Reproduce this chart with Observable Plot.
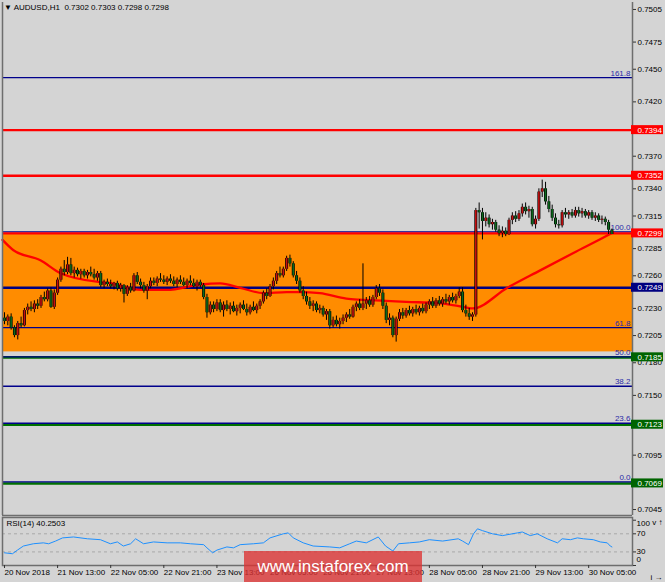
<!DOCTYPE html>
<html><head><meta charset="utf-8">
<script src="https://cdn.jsdelivr.net/npm/d3@7"></script>
<script src="https://cdn.jsdelivr.net/npm/@observablehq/plot@0.6"></script>
<style>
html,body{margin:0;padding:0;background:#d4d4d4;}
#wrap{position:relative;width:665px;height:582px;overflow:hidden;background:#d4d4d4;font-family:"Liberation Sans",Arial,sans-serif;}
#main{position:absolute;left:0;top:0;}
#rsi{position:absolute;left:0;top:516px;}
#hdr{position:absolute;left:4px;top:3px;font-size:8px;line-height:10px;color:#000;white-space:pre;}
#wm{position:absolute;left:244px;top:551px;width:178px;height:31px;background:rgba(220,50,50,0.78);color:#fff;font-size:17px;line-height:31px;text-align:center;}
</style></head>
<body><div id="wrap"><div id="main"></div><div id="rsi"></div><div id="hdr"></div><div id="wm"></div></div>
<script>
// ---------- data ----------
const symbol = "AUDUSD,H1";
const headerOHLC = ["0.7302","0.7303","0.7298","0.7298"];
const watermark = "www.instaforex.com";
const rsiTitle = "RSI(14) 40.2503";

const open = [
.7221,.7218,.7222,.7212,.7205,.7216,.7214,.7228,.7231,.7229,.7234,.7232,.7240,.7238,.7246,.7231,.7244,.7256,.7266,.7263,
.7270,.7262,.7265,.7261,.7264,.7260,.7263,.7261,.7258,.7262,.7251,.7254,.7252,.7250,.7253,.7248,.7251,.7243,.7249,.7246,
.7260,.7254,.7251,.7246,.7250,.7255,.7253,.7257,.7256,.7254,.7257,.7255,.7252,.7256,.7254,.7251,.7255,.7253,.7250,.7254,
.7251,.7240,.7226,.7233,.7229,.7235,.7228,.7233,.7229,.7232,.7227,.7230,.7233,.7229,.7226,.7231,.7228,.7232,.7236,.7244,
.7241,.7250,.7255,.7262,.7260,.7266,.7276,.7271,.7260,.7255,.7246,.7241,.7236,.7232,.7234,.7228,.7230,.7224,.7227,.7214,
.7219,.7215,.7218,.7221,.7224,.7222,.7231,.7234,.7230,.7234,.7237,.7233,.7240,.7248,.7244,.7232,.7219,.7221,.7205,.7220,
.7226,.7223,.7228,.7225,.7229,.7226,.7230,.7227,.7233,.7236,.7232,.7237,.7234,.7238,.7236,.7240,.7237,.7241,.7245,.7228,
.7225,.7222,.7224,.7320,.7318,.7310,.7313,.7307,.7309,.7302,.7299,.7301,.7298,.7311,.7315,.7312,.7317,.7323,.7319,.7321,
.7307,.7312,.7337,.7340,.7328,.7321,.7313,.7307,.7306,.7318,.7316,.7318,.7315,.7320,.7317,.7319,.7315,.7318,.7313,.7315,
.7311,.7312,.7309,.7302];
const high = [
.7226,.7224,.7225,.7214,.7218,.7222,.7230,.7234,.7236,.7237,.7238,.7242,.7245,.7248,.7249,.7247,.7258,.7268,.7274,.7277,
.7276,.7268,.7267,.7266,.7266,.7265,.7268,.7266,.7264,.7264,.7256,.7257,.7256,.7254,.7255,.7253,.7252,.7251,.7253,.7262,
.7263,.7257,.7254,.7252,.7258,.7258,.7259,.7262,.7260,.7259,.7261,.7259,.7258,.7260,.7258,.7257,.7260,.7257,.7256,.7256,
.7253,.7243,.7236,.7236,.7238,.7238,.7236,.7237,.7235,.7236,.7233,.7235,.7237,.7234,.7233,.7236,.7234,.7238,.7246,.7248,
.7252,.7258,.7264,.7268,.7268,.7278,.7279,.7273,.7264,.7258,.7250,.7245,.7240,.7237,.7236,.7233,.7232,.7229,.7229,.7222,
.7223,.7221,.7224,.7226,.7229,.7233,.7236,.7238,.7271,.7240,.7241,.7242,.7251,.7252,.7247,.7235,.7225,.7223,.7222,.7229,
.7230,.7230,.7232,.7231,.7233,.7232,.7234,.7235,.7238,.7240,.7239,.7241,.7240,.7243,.7242,.7244,.7243,.7249,.7249,.7233,
.7230,.7226,.7322,.7327,.7322,.7318,.7316,.7312,.7311,.7306,.7305,.7304,.7313,.7318,.7319,.7320,.7326,.7327,.7324,.7323,
.7315,.7340,.7348,.7346,.7333,.7325,.7317,.7311,.7320,.7322,.7320,.7321,.7323,.7323,.7322,.7321,.7320,.7320,.7318,.7317,
.7315,.7314,.7311,.7303];
const low = [
.7215,.7214,.7210,.7203,.7201,.7212,.7213,.7224,.7227,.7226,.7229,.7230,.7236,.7236,.7230,.7229,.7242,.7254,.7260,.7261,
.7260,.7258,.7259,.7257,.7258,.7257,.7259,.7256,.7255,.7249,.7248,.7250,.7248,.7247,.7246,.7245,.7235,.7241,.7244,.7245,
.7252,.7248,.7244,.7238,.7248,.7251,.7250,.7254,.7252,.7251,.7253,.7250,.7249,.7252,.7250,.7248,.7251,.7249,.7246,.7249,
.7238,.7221,.7224,.7226,.7227,.7226,.7222,.7227,.7224,.7226,.7223,.7225,.7228,.7223,.7224,.7227,.7225,.7229,.7234,.7238,
.7240,.7247,.7252,.7258,.7258,.7264,.7268,.7258,.7252,.7244,.7238,.7233,.7229,.7227,.7226,.7225,.7222,.7219,.7211,.7212,
.7213,.7211,.7215,.7217,.7220,.7221,.7227,.7228,.7228,.7229,.7231,.7231,.7238,.7241,.7229,.7216,.7214,.7203,.7199,.7218,
.7220,.7221,.7223,.7222,.7224,.7223,.7225,.7225,.7229,.7230,.7230,.7232,.7231,.7234,.7233,.7235,.7234,.7239,.7226,.7222,
.7219,.7218,.7222,.7303,.7293,.7305,.7304,.7302,.7300,.7296,.7295,.7296,.7297,.7307,.7309,.7310,.7314,.7316,.7313,.7305,
.7303,.7310,.7332,.7325,.7318,.7310,.7304,.7303,.7304,.7313,.7312,.7313,.7313,.7314,.7313,.7313,.7312,.7311,.7310,.7309,
.7307,.7306,.7298,.7298];
const close = [
.7218,.7222,.7212,.7205,.7216,.7214,.7228,.7231,.7229,.7234,.7232,.7240,.7238,.7246,.7231,.7244,.7256,.7266,.7263,.7270,
.7262,.7265,.7261,.7264,.7260,.7263,.7261,.7258,.7262,.7251,.7254,.7252,.7250,.7253,.7248,.7251,.7243,.7249,.7246,.7260,
.7254,.7251,.7246,.7250,.7255,.7253,.7257,.7256,.7254,.7257,.7255,.7252,.7256,.7254,.7251,.7255,.7253,.7250,.7254,.7251,
.7240,.7226,.7233,.7229,.7235,.7228,.7233,.7229,.7232,.7227,.7230,.7233,.7229,.7226,.7231,.7228,.7232,.7236,.7244,.7241,
.7250,.7255,.7262,.7260,.7266,.7276,.7271,.7260,.7255,.7246,.7241,.7236,.7232,.7234,.7228,.7230,.7224,.7227,.7214,.7219,
.7215,.7218,.7221,.7224,.7222,.7231,.7234,.7230,.7234,.7237,.7233,.7240,.7248,.7244,.7232,.7219,.7221,.7205,.7220,.7226,
.7223,.7228,.7225,.7229,.7226,.7230,.7227,.7233,.7236,.7232,.7237,.7234,.7238,.7236,.7240,.7237,.7241,.7245,.7228,.7225,
.7222,.7224,.7320,.7318,.7310,.7313,.7307,.7309,.7302,.7299,.7301,.7298,.7311,.7315,.7312,.7317,.7323,.7319,.7321,.7307,
.7312,.7337,.7340,.7328,.7321,.7313,.7307,.7306,.7318,.7316,.7318,.7315,.7320,.7317,.7319,.7315,.7318,.7313,.7315,.7311,
.7312,.7309,.7302,.7298];

// moving average read at bar positions
const maBar = [-0.6, 2.7, 10.8, 16.9, 28.9, 32, 41, 49, 59, 65, 71, 78, 85, 89, 95, 103, 107, 115, 121, 130, 135, 139, 141, 151.5, 161.4, 171.4, 181.6, 183.4];
const maVal = [.7293,.72835,.72743,.72624,.72541,.72532,.7247,.7247,.7252,.7253,.7249,.7244,.7245,.7245,.7244,.7239,.7238,.7237,.7236,.7235,.7233,.7231,.7230,.7249,.7265,.7281,.7297,.7300];

// RSI(14) read at bar positions
const rsiBar = [0,2.4,3.9,5.7,8.7,11.7,13.3,15.4,17.5,20.8,25,28.9,31.9,34,35.8,38,39.5,41.9,44.9,49,53,56,60,61,62.7,64,67,69,71,75,78,80,84,85.5,87,90,93,98,101,104,106,109,112.6,114.8,117,118.7,122,125,128,132,136.7,138,139.8,141.3,142.5,144,147,150,154.5,156,158.4,160.5,163.5,166.6,168,170.5,172.6,174.4,177.4,179.5,181.6,182.5,183];
const rsiVal = [28,26,34,43,48,50,48,54,61,63,59,57,48,52,43,48,59,48,52,50,50,48,46,39,28,34,41,39,46,48,50,61,70,72,61,50,43,41,39,48,54,50,63,43,32,48,50,52,57,54,59,54,46,70,81,77,70,66,72,74,66,70,59,50,59,57,61,59,57,52,50,43,41];
const rsiLevels = [30, 70];
const rsiTicks = [100, 70, 30, 0];

// levels
const fibLabels = ["161.8","100.0","61.8","50.0","38.2","23.6","0.0"];
const fibPrices = [0.7441, 0.7299, 0.7211, 0.7184, 0.7157, 0.7123, 0.7069];
const redLevels = [0.7394, 0.7352, 0.7299];
const pivotLevel = [0.7249];
const greenLevels = [0.7185, 0.7123, 0.7069];
const zone = [0.7299, 0.7190];
const yTicks = [0.7505,0.7475,0.7450,0.7420,0.7370,0.7340,0.7315,0.7285,0.7260,0.7230,0.7205,0.7180,0.7150,0.7095,0.7045];

const xTickIdx = [0,16,32,48,64,80,96,112,128,144,160,176];
const xTickLabels = ["20 Nov 2018","21 Nov 13:00","22 Nov 05:00","22 Nov 21:00","23 Nov 13:00","26 Nov 05:00","26 Nov 21:00","27 Nov 13:00","28 Nov 05:00","28 Nov 21:00","29 Nov 13:00","30 Nov 05:00"];

// ---------- build ----------
const bars = close.map((c, i) => ({i, o: open[i], h: high[i], l: low[i], c}));
const ma = maBar.map((b, k) => ({i: b, v: maVal[k]}));
const rsi = rsiBar.map((b, k) => ({i: b, v: rsiVal[k]}));
const fibs = fibLabels.map((t, k) => ({t, v: fibPrices[k]}));

const FONT = "'Liberation Sans', Arial, sans-serif";
const X_DOMAIN = [-0.6, 189.2];
const XR = X_DOMAIN[1];
const Y_DOMAIN = [0.70395, 0.75114];
const UP = "#c81010", DOWN = "#0c6a1c", BORDER = "#6e6e6e";
const fmt4 = d3.format(".4f");

function priceBox(levels, color) {
  return [
    Plot.rect(levels, {x1: () => XR, x2: () => XR, y1: d => d, y2: d => d,
      insetLeft: -1, insetRight: -31, insetTop: -4.5, insetBottom: -4.5, fill: color}),
    Plot.text(levels, {x: () => XR, y: d => d, text: d => fmt4(d), dx: 5, textAnchor: "start", fill: "#fff", fontSize: 8})
  ];
}

const main = Plot.plot({
  width: 665, height: 516,
  marginLeft: 2, marginRight: 33, marginTop: 2, marginBottom: 1,
  x: {domain: X_DOMAIN, axis: null},
  y: {domain: Y_DOMAIN, axis: null},
  style: {background: "transparent", fontFamily: FONT, fontSize: "8px", color: "#000", overflow: "visible"},
  marks: [
    Plot.rect([zone], {y1: d => d[0], y2: d => d[1], fill: "#ff8c00"}),
    Plot.ruleY(greenLevels, {y: d => d, stroke: "#007000", strokeWidth: 2.6}),
    Plot.ruleY(fibs, {y: "v", stroke: "#00008b", strokeWidth: 1.3, dy: -1.5}),
    Plot.ruleY(pivotLevel, {y: d => d, stroke: "#000080", strokeWidth: 2.4}),
    Plot.ruleY(redLevels, {y: d => d, stroke: "#ff0000", strokeWidth: 2.4}),
    Plot.text(fibs, {x: () => XR, y: "v", text: "t", textAnchor: "end", dx: -2, dy: -6, fill: "#2a2aa8", fontSize: 8}),
    Plot.line(ma, {x: "i", y: "v", stroke: "#ff0000", strokeWidth: 2.3, curve: "monotone-x"}),
    Plot.ruleX(bars, {x: "i", y1: "l", y2: "h", stroke: "#000", strokeWidth: 1}),
    Plot.ruleX(bars, {x: "i", y1: "o", y2: "c", stroke: "#000", strokeWidth: 3}),
    Plot.ruleX(bars, {filter: d => d.c >= d.o, x: "i", y1: "o", y2: "c", stroke: UP, strokeWidth: 1.6}),
    Plot.ruleX(bars, {filter: d => d.c < d.o, x: "i", y1: "o", y2: "c", stroke: DOWN, strokeWidth: 1.6}),
    Plot.ruleX([X_DOMAIN[0], X_DOMAIN[1]], {stroke: BORDER, strokeWidth: 1.5}),
    Plot.ruleY([Y_DOMAIN[0]], {stroke: BORDER, strokeWidth: 1.5}),
    Plot.axisY(yTicks, {anchor: "right", tickSize: 3, tickPadding: 2, tickFormat: fmt4, fontSize: 8, stroke: "#333"}),
    ...priceBox(redLevels, "#ff0000"),
    ...priceBox(pivotLevel, "#000080"),
    ...priceBox(greenLevels, "#006400")
  ]
});
document.getElementById("main").appendChild(main);

const rsiPlot = Plot.plot({
  width: 665, height: 66,
  marginLeft: 2, marginRight: 33, marginTop: 1, marginBottom: 17,
  x: {domain: X_DOMAIN, axis: null},
  y: {domain: [0, 106], axis: null},
  style: {background: "transparent", fontFamily: FONT, fontSize: "8px", color: "#000", overflow: "visible"},
  marks: [
    Plot.ruleY(rsiLevels, {y: d => d, stroke: "#a9a9a9", strokeDasharray: "3,3"}),
    Plot.line(rsi, {x: "i", y: "v", stroke: "#1e90ff", strokeWidth: 1}),
    Plot.frame({stroke: BORDER, strokeWidth: 1.5}),
    Plot.text([rsiTitle], {frameAnchor: "top-left", text: d => d, dx: 4, dy: 3, fontSize: 8, fill: "#000"}),
    Plot.axisY(rsiTicks, {anchor: "right", tickSize: 3, tickFormat: () => "", stroke: "#333"}),
    Plot.text(rsiTicks.filter(d => d === 100), {x: () => XR, y: d => d, text: d => String(d), dx: 4, dy: 3.5, textAnchor: "start", fontSize: 8}),
    Plot.text(rsiTicks.filter(d => d === 70 || d === 30), {x: () => XR, y: d => d, text: d => String(d), dx: 4, textAnchor: "start", fontSize: 8}),
    Plot.text(rsiTicks.filter(d => d === 0), {x: () => XR, y: d => d, text: d => String(d), dx: 4, dy: -6, textAnchor: "start", fontSize: 8}),
    Plot.axisX(xTickIdx, {anchor: "bottom", tickSize: 3, tickPadding: 1, tickFormat: d => xTickLabels[xTickIdx.indexOf(d)], textAnchor: "start", dx: 0, fontSize: 8, stroke: "#333"})
  ]
});
document.getElementById("rsi").appendChild(rsiPlot);

document.getElementById("hdr").textContent = "\u25BC " + symbol + "  " + headerOHLC.join(" ");
document.getElementById("wm").textContent = watermark;
</script>
</body></html>
